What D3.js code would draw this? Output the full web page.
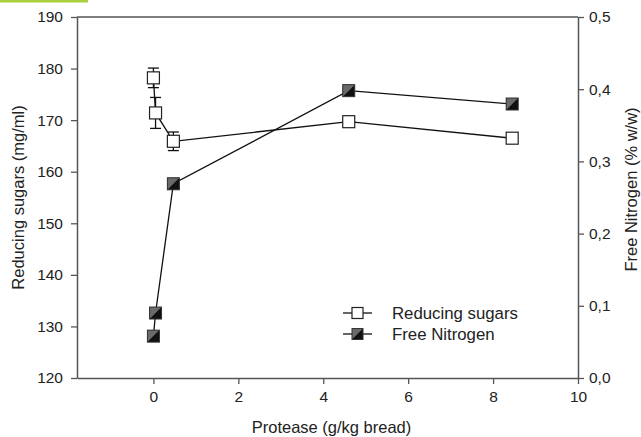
<!DOCTYPE html>
<html><head><meta charset="utf-8">
<script src="https://cdn.jsdelivr.net/npm/d3@7"></script>
<style>
html,body{margin:0;padding:0;background:#fff;}
svg{display:block;font-family:"Liberation Sans",Arial,sans-serif;}
</style></head>
<body>
<svg id="c" width="641" height="437"></svg>
<script>
// Data
const protease = [0, 0.05, 0.47, 4.6, 8.45];
const reducingSugars = [178.2, 171.4, 165.9, 169.7, 166.5];
const reducingSugarsErr = [1.9, 3.0, 1.8, 0, 0];
const freeNitrogen = [0.058, 0.09, 0.269, 0.398, 0.3795];
const xTicks = [0, 2, 4, 6, 8, 10];
const yLeftTicks = [120, 130, 140, 150, 160, 170, 180, 190];
const yRightTicks = [0, 0.1, 0.2, 0.3, 0.4, 0.5];
const legendLabels = ["Reducing sugars", "Free Nitrogen"];

const svg = d3.select("#c");
const L = 77, R = 578, T = 17, B = 378;
const x = d3.scaleLinear().domain([-1.8, 10]).range([L, R]);
const yL = d3.scaleLinear().domain([120, 190]).range([B, T]);
const yR = d3.scaleLinear().domain([0, 0.5]).range([B, T]);

// green highlight
svg.append("rect").attr("x", 0).attr("y", 0).attr("width", 88).attr("height", 2.5).attr("fill", "#a9cf3c");

const axisColor = "#555";
const txtColor = "#222";
function styleAxis(g) {
  g.selectAll("path.domain").attr("stroke", axisColor).attr("stroke-width", 1.5);
  g.selectAll(".tick line").attr("stroke", axisColor).attr("stroke-width", 1.3);
  g.selectAll(".tick text").attr("fill", txtColor).attr("font-size", 15.5).attr("font-family", "Liberation Sans, Arial, sans-serif");
}

// top frame
svg.append("line").attr("x1", L).attr("x2", R).attr("y1", T).attr("y2", T).attr("stroke", axisColor).attr("stroke-width", 1.5);

const gx = svg.append("g").attr("transform", `translate(0,${B})`)
  .call(d3.axisBottom(x).tickValues(xTicks).tickSize(6).tickSizeOuter(0).tickPadding(7).tickFormat(d3.format("d")));
styleAxis(gx);
const gl = svg.append("g").attr("transform", `translate(${L},0)`)
  .call(d3.axisLeft(yL).tickValues(yLeftTicks).tickSize(6).tickSizeOuter(0).tickPadding(8).tickFormat(d3.format("d")));
styleAxis(gl);
const gr = svg.append("g").attr("transform", `translate(${R},0)`)
  .call(d3.axisRight(yR).tickValues(yRightTicks).tickSize(6).tickSizeOuter(0).tickPadding(5).tickFormat(d => d3.format(".1f")(d).replace(".", ",")));
styleAxis(gr);

// axis titles
svg.append("text").attr("x", (L + R) / 2 + 4).attr("y", 433).attr("text-anchor", "middle")
  .attr("font-size", 16.5).attr("fill", txtColor).text("Protease (g/kg bread)");
svg.append("text").attr("transform", `translate(24,${(T + B) / 2}) rotate(-90)`).attr("text-anchor", "middle")
  .attr("font-size", 16.5).attr("fill", txtColor).text("Reducing sugars (mg/ml)");
svg.append("text").attr("transform", `translate(637,${(T + B) / 2 - 8}) rotate(-90)`).attr("text-anchor", "middle")
  .attr("font-size", 16.5).attr("fill", txtColor).text("Free Nitrogen (% w/w)");

const rs = protease.map((p, i) => ({x: p, y: reducingSugars[i], e: reducingSugarsErr[i]}));
const fn = protease.map((p, i) => ({x: p, y: freeNitrogen[i]}));

// lines
svg.append("path").datum(rs).attr("fill", "none").attr("stroke", "#111").attr("stroke-width", 1.3)
  .attr("d", d3.line().x(d => x(d.x)).y(d => yL(d.y)));
svg.append("path").datum(fn).attr("fill", "none").attr("stroke", "#111").attr("stroke-width", 1.3)
  .attr("d", d3.line().x(d => x(d.x)).y(d => yR(d.y)));

// error bars
const eb = svg.append("g").attr("stroke", "#111").attr("stroke-width", 1.3);
rs.filter(d => d.e > 0).forEach(d => {
  const cx = x(d.x), y1 = yL(d.y + d.e), y2 = yL(d.y - d.e);
  eb.append("line").attr("x1", cx).attr("x2", cx).attr("y1", y1).attr("y2", y2);
  eb.append("line").attr("x1", cx - 5.5).attr("x2", cx + 5.5).attr("y1", y1).attr("y2", y1);
  eb.append("line").attr("x1", cx - 5.5).attr("x2", cx + 5.5).attr("y1", y2).attr("y2", y2);
});

const S = 12;
function openSquare(g, cx, cy, s) {
  g.append("rect").attr("x", cx - s / 2).attr("y", cy - s / 2).attr("width", s).attr("height", s)
    .attr("fill", "#fff").attr("stroke", "#222").attr("stroke-width", 1.2);
}
function halfSquare(g, cx, cy, s) {
  const h = s / 2;
  g.append("rect").attr("x", cx - h).attr("y", cy - h).attr("width", s).attr("height", s).attr("fill", "#111");
  g.append("path").attr("d", `M${cx - h},${cy - h}L${cx + h},${cy - h}L${cx - h},${cy + h}Z`).attr("fill", "#6a6a6a");
  g.append("rect").attr("x", cx - h).attr("y", cy - h).attr("width", s).attr("height", s)
    .attr("fill", "none").attr("stroke", "#333").attr("stroke-width", 1);
}
const mk = svg.append("g");
rs.forEach(d => openSquare(mk, x(d.x), yL(d.y), S));
fn.forEach(d => halfSquare(mk, x(d.x), yR(d.y), S));

// legend
const lg = svg.append("g");
[313, 334].forEach((ly, i) => {
  lg.append("line").attr("x1", 343).attr("x2", 372).attr("y1", ly).attr("y2", ly).attr("stroke", "#111").attr("stroke-width", 1.3);
  if (i === 0) openSquare(lg, 357.5, ly, 11); else halfSquare(lg, 357.5, ly, 11);
  lg.append("text").attr("x", 392).attr("y", ly + 6).attr("font-size", 16.8).attr("fill", txtColor).text(legendLabels[i]);
});
</script>
</body></html>
